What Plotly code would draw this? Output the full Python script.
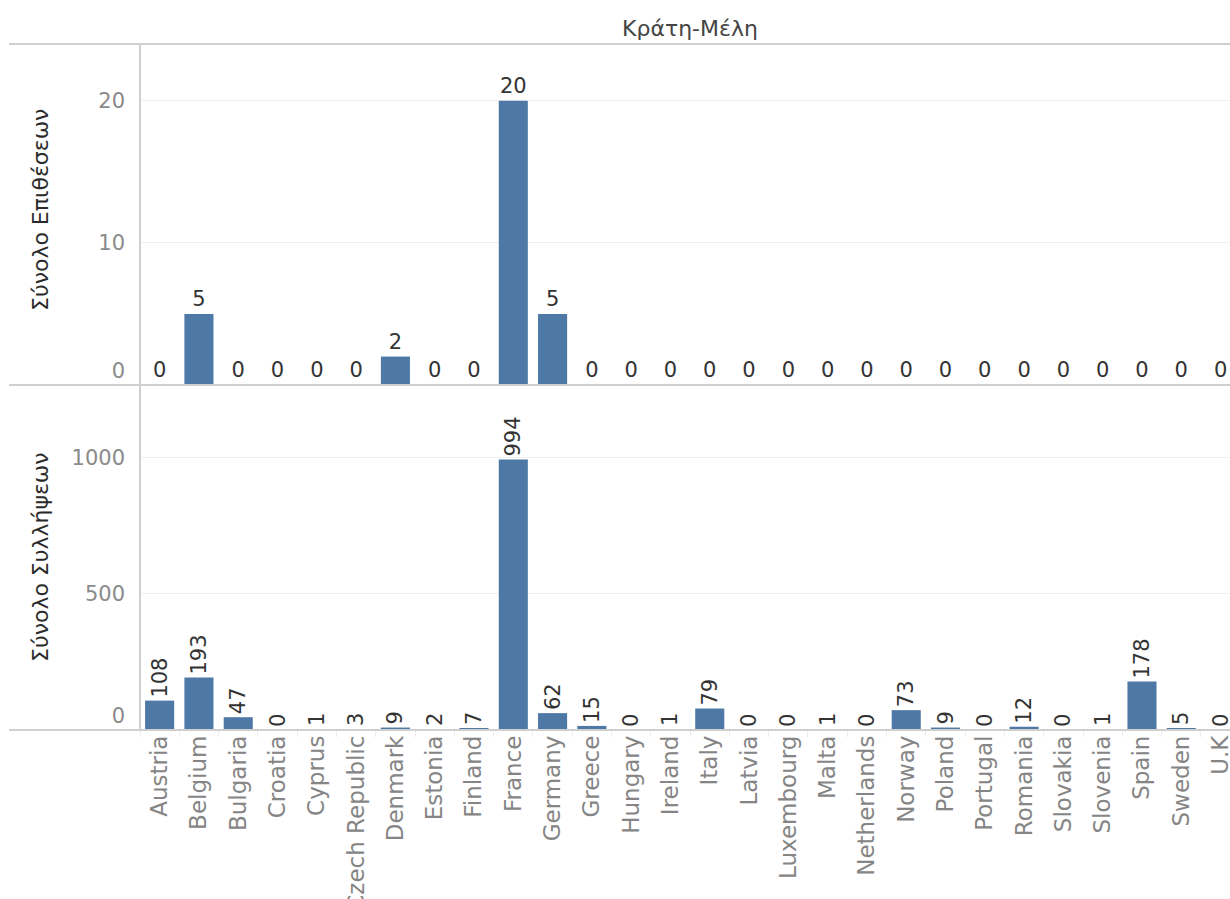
import plotly.graph_objects as go

countries = ["Austria", "Belgium", "Bulgaria", "Croatia", "Cyprus", "Czech Republic",
             "Denmark", "Estonia", "Finland", "France", "Germany", "Greece", "Hungary",
             "Ireland", "Italy", "Latvia", "Luxembourg", "Malta", "Netherlands", "Norway",
             "Poland", "Portugal", "Romania", "Slovakia", "Slovenia", "Spain", "Sweden", "U.K"]
attacks = [0, 5, 0, 0, 0, 0, 2, 0, 0, 20, 5, 0, 0, 0, 0, 0, 0, 0, 0, 0,
           0, 0, 0, 0, 0, 0, 0, 0]
arrests = [108, 193, 47, 0, 1, 3, 9, 2, 7, 994, 62, 15, 0, 1, 79, 0, 0, 1, 0, 73,
           9, 0, 12, 0, 1, 178, 5, 0]
top_ticks = [10, 20]
bottom_ticks = [500, 1000]
zero_tick = [0]
top_range = [0, 24]
bottom_range = [0, 1268]

W, H = 1230, 899
BLUE = "#4e79a7"
FONT = "DejaVu Sans"
TICKFONT = dict(family=FONT, size=21, color="#8a8a8a")

def px_x(x):
    return x / W

def px_y(y):
    return 1 - y / H

fig = go.Figure()
fig.add_trace(go.Bar(x=countries, y=attacks, marker_color=BLUE, marker_line_width=0,
                     text=[str(v) for v in attacks], textposition="outside",
                     textangle=0, constraintext="none", cliponaxis=False,
                     textfont=dict(family=FONT, size=21, color="#333333"),
                     xaxis="x", yaxis="y", hoverinfo="x+y"))
fig.add_trace(go.Bar(x=countries, y=arrests, marker_color=BLUE, marker_line_width=0,
                     text=[str(v) for v in arrests], textposition="outside",
                     textangle=-90, constraintext="none", cliponaxis=False,
                     textfont=dict(family=FONT, size=21, color="#333333"),
                     xaxis="x2", yaxis="y2", hoverinfo="x+y"))
# empty helper traces so the overlay axes carrying the "0" labels are drawn
fig.add_trace(go.Scatter(x=countries[:1], y=zero_tick, mode="none", hoverinfo="skip",
                         xaxis="x", yaxis="y3", showlegend=False))
fig.add_trace(go.Scatter(x=countries[:1], y=zero_tick, mode="none", hoverinfo="skip",
                         xaxis="x2", yaxis="y4", showlegend=False))

xr = [-0.5, 27.24]
top_dom = [px_y(385), px_y(44)]
bot_dom = [px_y(730), px_y(385)]
xdom = [px_x(140), 1.0]

common_y = dict(automargin=False, zeroline=False, showline=False, ticks="",
                ticklabelstandoff=14, tickfont=TICKFONT)

fig.update_layout(
    width=W, height=H, autosize=False,
    margin=dict(l=0, r=0, t=0, b=0, autoexpand=False),
    paper_bgcolor="white", plot_bgcolor="white",
    showlegend=False, bargap=0.26,
    font=dict(family=FONT),
    xaxis=dict(domain=xdom, range=xr, anchor="y", showticklabels=False, automargin=False,
               ticks="", showgrid=False, zeroline=False, showline=False,
               categoryorder="array", categoryarray=countries),
    yaxis=dict(domain=top_dom, range=top_range, anchor="x", tickvals=top_ticks,
               showgrid=True, gridcolor="#f0f0f0", gridwidth=1, **common_y),
    yaxis3=dict(range=top_range, anchor="x", overlaying="y",
                side="left", tickvals=zero_tick, showgrid=False,
                ticklabelposition="outside top", **common_y),
    xaxis2=dict(domain=xdom, range=xr, anchor="y2", showticklabels=True, automargin=False,
                tickangle=-90, ticks="outside", tickson="boundaries", ticklen=6,
                tickcolor="#ececec", showgrid=False, zeroline=False, showline=False,
                categoryorder="array", categoryarray=countries,
                tickfont=dict(family=FONT, size=23, color="#858585")),
    yaxis2=dict(domain=bot_dom, range=bottom_range, anchor="x2", tickvals=bottom_ticks,
                showgrid=True, gridcolor="#f0f0f0", gridwidth=1, **common_y),
    yaxis4=dict(range=bottom_range, anchor="x2", overlaying="y2",
                side="left", tickvals=zero_tick, showgrid=False,
                ticklabelposition="outside top", **common_y),
)

line_col = "#cfcfcf"
for yy in (44, 385, 730):
    fig.add_shape(type="line", xref="paper", yref="paper",
                  x0=px_x(9), x1=1.0, y0=px_y(yy), y1=px_y(yy),
                  line=dict(color=line_col, width=2), layer="above")
fig.add_shape(type="line", xref="paper", yref="paper",
              x0=px_x(140), x1=px_x(140), y0=px_y(44), y1=px_y(730),
              line=dict(color=line_col, width=2), layer="above")

fig.add_annotation(text="Κράτη-Μέλη", xref="paper", yref="paper",
                   x=px_x(690), y=px_y(28), showarrow=False,
                   xanchor="center", yanchor="middle",
                   font=dict(family=FONT, size=22, color="#444444"))
fig.add_annotation(text="Σύνολο Επιθέσεων", xref="paper", yref="paper",
                   x=px_x(40), y=px_y(210), showarrow=False, textangle=-90,
                   xanchor="center", yanchor="middle",
                   font=dict(family=FONT, size=22, color="#2a2a2a"))
fig.add_annotation(text="Σύνολο Συλλήψεων", xref="paper", yref="paper",
                   x=px_x(40), y=px_y(557), showarrow=False, textangle=-90,
                   xanchor="center", yanchor="middle",
                   font=dict(family=FONT, size=22, color="#2a2a2a"))

post = ("document.documentElement.style.margin='0';"
        "document.body.style.margin='0';"
        "document.body.style.overflow='hidden';")
fig.write_html("out.html", config={"responsive": False, "displayModeBar": False},
               post_script=post)
